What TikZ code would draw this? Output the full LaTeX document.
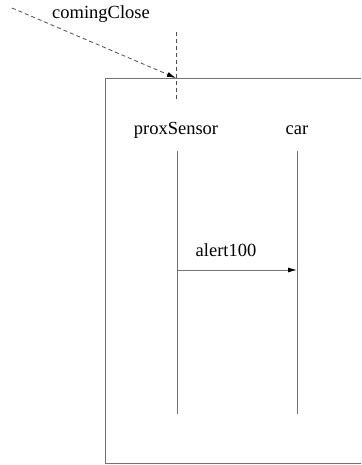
\documentclass[tikz,border=0pt]{standalone}
\usepackage{fontspec}
\setmainfont{Liberation Serif}
\usetikzlibrary{arrows.meta}
\begin{document}
\begin{tikzpicture}[x=1pt,y=-1pt,
  lbl/.style={inner sep=0pt, font=\fontsize{18.5}{21}\selectfont},
  ln/.style={draw=black!55, line width=1pt},
  dsh/.style={draw=black!70, line width=0.8pt, dash pattern=on 4pt off 3pt},
  tip/.style={-{Latex[length=9pt,width=5pt,black]}}]
\useasboundingbox (0,0) rectangle (361,465);
% frame (open to the right)
\draw[ln] (361,79) -- (105,79) -- (105,463) -- (361,463);
% lifeline heads
\node[lbl] (ps) at (176,130) {proxSensor};
\node[lbl] (car) at (297,130) {car};
% lifelines
\coordinate (psT) at (177,151);
\coordinate (psB) at (177,414);
\coordinate (carT) at (297,151);
\coordinate (carB) at (297,414);
\draw[ln] (psT) -- (psB);
\draw[ln] (carT) -- (carB);
% message
\coordinate (m1) at (177,270);
\coordinate (m2) at (297,270);
\draw[ln, tip] (m1) -- (m2);
\node[lbl] (msg) at (226,250) {alert100};
% incoming found message
\coordinate (src) at (12,8);
\coordinate (gate) at (176,78);
\coordinate (gT) at (176,32);
\coordinate (gB) at (176,100);
\draw[dsh] (gT) -- (gB);
\draw[dsh, tip] (src) -- (gate);
\node[lbl] (evt) at (101,14) {comingClose};
\end{tikzpicture}
\end{document}
